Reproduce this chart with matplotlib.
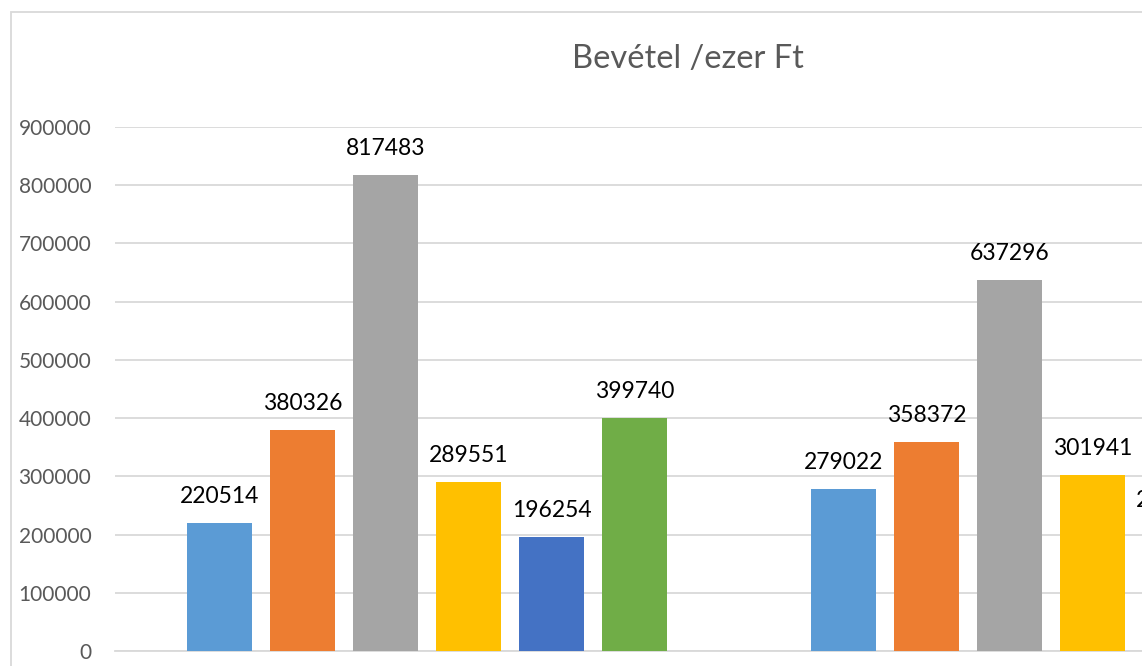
import numpy as np
import matplotlib
matplotlib.use("Agg")
import matplotlib.pyplot as plt
from matplotlib.patches import Rectangle

plt.rcParams['font.family'] = ['Lato', 'DejaVu Sans']

# Data (two category groups, six series; last series of group 2 is off-image)
categories = ["1", "2"]
series_values = [
    [220514, 279022],
    [380326, 358372],
    [817483, 637296],
    [289551, 301941],
    [196254, 213000],
    [399740, np.nan],
]
series_colors = ["#5B9BD5", "#ED7D31", "#A5A5A5", "#FFC000", "#4472C4", "#70AD47"]
yticks = [0, 100000, 200000, 300000, 400000, 500000, 600000, 700000, 800000, 900000]
title = "Bevétel /ezer Ft"

W, H = 1142, 666
fig = plt.figure(figsize=(W / 100, H / 100), dpi=100)
fig.patch.set_facecolor("white")

# plot area extends past the right edge (chart is cropped)
ax = fig.add_axes([115 / W, 15 / H, 1248 / W, 524 / H])
ax.set_xlim(-0.5, len(categories) - 0.5)
ax.set_ylim(0, 900000)

pitch = 0.133
width = 0.104
x = np.arange(len(categories))
n = len(series_values)
for i, (vals, col) in enumerate(zip(series_values, series_colors)):
    pos = x + (i - (n - 1) / 2) * pitch
    ax.bar(pos, vals, width=width, color=col, zorder=3)
    for px, v in zip(pos, vals):
        if np.isnan(v):
            continue
        ax.annotate(f"{int(v)}", (px, v), xytext=(0, 14.4), textcoords="offset points",
                    ha="center", va="baseline", fontsize=16.5, color="black",
                    annotation_clip=False, zorder=4)

ax.set_yticks(yticks)
ax.set_yticklabels([str(t) for t in yticks])
ax.tick_params(axis="y", length=0, pad=17, labelsize=15, labelcolor="#595959")
ax.tick_params(axis="x", length=0, labelbottom=False)
ax.grid(axis="y", color="#D9D9D9", linewidth=1.3, zorder=0)
for s in ["top", "right", "left"]:
    ax.spines[s].set_visible(False)
ax.spines["bottom"].set_color("#D9D9D9")
ax.spines["bottom"].set_linewidth(1.3)

fig.text(688 / W, 1 - 59 / H, title, ha="center", va="center", fontsize=23.5, color="#595959")

fig.add_artist(Rectangle((11 / W, -0.1), 2, (H - 12) / H + 0.1, transform=fig.transFigure,
                         fill=False, edgecolor="#D9D9D9", linewidth=1.3))

fig.savefig("out.png", dpi=100)
